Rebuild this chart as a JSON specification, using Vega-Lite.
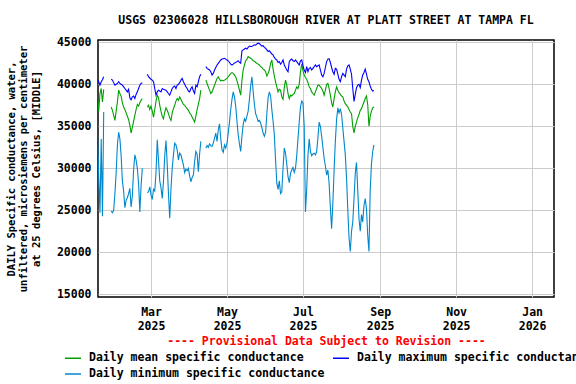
{
 "$schema": "https://vega.github.io/schema/vega-lite/v6.json",
 "width": 456, "height": 257,
 "autosize": {"type": "none"},
 "padding": {"left": 98, "top": 40, "right": 22, "bottom": 87},
 "background": "white",
 "title": {"text": "USGS 02306028 HILLSBOROUGH RIVER AT PLATT STREET AT TAMPA FL", "font": "DejaVu Sans Mono", "fontSize": 11.5, "fontWeight": "bold", "anchor": "middle", "frame": "group", "offset": 10, "color": "black"},
 "config": {"view": {"stroke": "black", "strokeWidth": 1.5}, "font": "DejaVu Sans Mono"},
 "data": {"values": [
{"t":"2025-01-17","s":1,"mean":38700,"max":40550,"min":34100},
{"t":"2025-01-18","s":1,"mean":36800,"max":40300,"min":29000},
{"t":"2025-01-19","s":1,"mean":38900,"max":39900,"min":24700},
{"t":"2025-01-20","s":1,"mean":39500,"max":40300,"min":33500},
{"t":"2025-01-21","s":1,"mean":37900,"max":40550,"min":24300},
{"t":"2025-01-22","s":1,"mean":39400,"max":40900,"min":36700},
{"t":"2025-01-28","s":2,"mean":37300,"max":40600,"min":24900},
{"t":"2025-01-29","s":2,"mean":36900,"max":40500,"min":24700},
{"t":"2025-01-30","s":2,"mean":36300,"max":40200,"min":25000},
{"t":"2025-01-31","s":2,"mean":35700,"max":39900,"min":27000},
{"t":"2025-02-01","s":2,"mean":36800,"max":40000,"min":29500},
{"t":"2025-02-02","s":2,"mean":37900,"max":40100,"min":32800},
{"t":"2025-02-03","s":2,"mean":39300,"max":40300,"min":34300},
{"t":"2025-02-04","s":2,"mean":38900,"max":40100,"min":33500},
{"t":"2025-02-05","s":2,"mean":38600,"max":40000,"min":31500},
{"t":"2025-02-06","s":2,"mean":37800,"max":39900,"min":28500},
{"t":"2025-02-07","s":2,"mean":37300,"max":39700,"min":27300},
{"t":"2025-02-08","s":2,"mean":37000,"max":39500,"min":25300},
{"t":"2025-02-09","s":2,"mean":36600,"max":39300,"min":26200},
{"t":"2025-02-10","s":2,"mean":36200,"max":39100,"min":26500},
{"t":"2025-02-11","s":2,"mean":35800,"max":39400,"min":27000},
{"t":"2025-02-12","s":2,"mean":35100,"max":38400,"min":27600},
{"t":"2025-02-13","s":2,"mean":34200,"max":38150,"min":25400},
{"t":"2025-02-14","s":2,"mean":34900,"max":38500,"min":26700},
{"t":"2025-02-15","s":2,"mean":35600,"max":38600,"min":29800},
{"t":"2025-02-16","s":2,"mean":36300,"max":38300,"min":31600},
{"t":"2025-02-17","s":2,"mean":37000,"max":38800,"min":31000},
{"t":"2025-02-18","s":2,"mean":37600,"max":39100,"min":30000},
{"t":"2025-02-19","s":2,"mean":37400,"max":39500,"min":28200},
{"t":"2025-02-20","s":2,"mean":37800,"max":39900,"min":24800},
{"t":"2025-02-21","s":2,"mean":38100,"max":40100,"min":27900},
{"t":"2025-02-22","s":2,"mean":38300,"max":40200,"min":30000},
{"t":"2025-02-26","s":3,"mean":37300,"max":41200,"min":27100},
{"t":"2025-02-27","s":3,"mean":37500,"max":40900,"min":27200},
{"t":"2025-02-28","s":3,"mean":37000,"max":40750,"min":27800},
{"t":"2025-03-01","s":3,"mean":37400,"max":40600,"min":26800},
{"t":"2025-03-02","s":3,"mean":36800,"max":40500,"min":26300},
{"t":"2025-03-03","s":3,"mean":36100,"max":40300,"min":27500},
{"t":"2025-03-04","s":3,"mean":37000,"max":39500,"min":27300},
{"t":"2025-03-05","s":3,"mean":38000,"max":38700,"min":29500},
{"t":"2025-03-06","s":3,"mean":38700,"max":39100,"min":33400},
{"t":"2025-03-07","s":3,"mean":38400,"max":39300,"min":31000},
{"t":"2025-03-08","s":3,"mean":37500,"max":39200,"min":28500},
{"t":"2025-03-09","s":3,"mean":36800,"max":39100,"min":27700},
{"t":"2025-03-10","s":3,"mean":36200,"max":39500,"min":26400},
{"t":"2025-03-11","s":3,"mean":35900,"max":39400,"min":28500},
{"t":"2025-03-12","s":3,"mean":36700,"max":39350,"min":31500},
{"t":"2025-03-13","s":3,"mean":37200,"max":39300,"min":33300},
{"t":"2025-03-14","s":3,"mean":36900,"max":39100,"min":30500},
{"t":"2025-03-15","s":3,"mean":36500,"max":38900,"min":27000},
{"t":"2025-03-16","s":3,"mean":36000,"max":38700,"min":24050},
{"t":"2025-03-17","s":3,"mean":35700,"max":39100,"min":27500},
{"t":"2025-03-18","s":3,"mean":36600,"max":39500,"min":30000},
{"t":"2025-03-19","s":3,"mean":37100,"max":39700,"min":31600},
{"t":"2025-03-20","s":3,"mean":37500,"max":39800,"min":33000},
{"t":"2025-03-21","s":3,"mean":38000,"max":39500,"min":32800},
{"t":"2025-03-22","s":3,"mean":38300,"max":39900,"min":32200},
{"t":"2025-03-23","s":3,"mean":38100,"max":40000,"min":31000},
{"t":"2025-03-24","s":3,"mean":38500,"max":40200,"min":31800},
{"t":"2025-03-25","s":3,"mean":38200,"max":40500,"min":31600},
{"t":"2025-03-26","s":3,"mean":37900,"max":40700,"min":31000},
{"t":"2025-03-27","s":3,"mean":37600,"max":40300,"min":30400},
{"t":"2025-03-28","s":3,"mean":37500,"max":40000,"min":29500},
{"t":"2025-03-29","s":3,"mean":37300,"max":39700,"min":29900},
{"t":"2025-03-30","s":3,"mean":37100,"max":39500,"min":29700},
{"t":"2025-03-31","s":3,"mean":36900,"max":39200,"min":30000},
{"t":"2025-04-01","s":3,"mean":36600,"max":39100,"min":29100},
{"t":"2025-04-02","s":3,"mean":36400,"max":39500,"min":28400},
{"t":"2025-04-03","s":3,"mean":36100,"max":39700,"min":28900},
{"t":"2025-04-04","s":3,"mean":35800,"max":39200,"min":29200},
{"t":"2025-04-05","s":3,"mean":35500,"max":38900,"min":30800},
{"t":"2025-04-06","s":3,"mean":36200,"max":39900,"min":32000},
{"t":"2025-04-07","s":3,"mean":37000,"max":39700,"min":31700},
{"t":"2025-04-08","s":3,"mean":37600,"max":40300,"min":29600},
{"t":"2025-04-09","s":3,"mean":38300,"max":40900,"min":31700},
{"t":"2025-04-10","s":3,"mean":39300,"max":41200,"min":33200},
{"t":"2025-04-14","s":4,"mean":40500,"max":42100,"min":32400},
{"t":"2025-04-15","s":4,"mean":40100,"max":41900,"min":32700},
{"t":"2025-04-16","s":4,"mean":39700,"max":41800,"min":32500},
{"t":"2025-04-17","s":4,"mean":39300,"max":41700,"min":32900},
{"t":"2025-04-18","s":4,"mean":38900,"max":41500,"min":32700},
{"t":"2025-04-19","s":4,"mean":39100,"max":41100,"min":32600},
{"t":"2025-04-20","s":4,"mean":39500,"max":41300,"min":33000},
{"t":"2025-04-21","s":4,"mean":39900,"max":41700,"min":33600},
{"t":"2025-04-22","s":4,"mean":40300,"max":42000,"min":34200},
{"t":"2025-04-23","s":4,"mean":40700,"max":42300,"min":33200},
{"t":"2025-04-24","s":4,"mean":40900,"max":42500,"min":34600},
{"t":"2025-04-25","s":4,"mean":40600,"max":42700,"min":35300},
{"t":"2025-04-26","s":4,"mean":40400,"max":42900,"min":33500},
{"t":"2025-04-27","s":4,"mean":40500,"max":43000,"min":32200},
{"t":"2025-04-28","s":4,"mean":40400,"max":43050,"min":31900},
{"t":"2025-04-29","s":4,"mean":40500,"max":43100,"min":32800},
{"t":"2025-04-30","s":4,"mean":40600,"max":43000,"min":32400},
{"t":"2025-05-01","s":4,"mean":40700,"max":42900,"min":33000},
{"t":"2025-05-02","s":4,"mean":40900,"max":42800,"min":34200},
{"t":"2025-05-03","s":4,"mean":41100,"max":42600,"min":35500},
{"t":"2025-05-04","s":4,"mean":41300,"max":42400,"min":37000},
{"t":"2025-05-05","s":4,"mean":41400,"max":42300,"min":38200},
{"t":"2025-05-06","s":4,"mean":41300,"max":42400,"min":39100},
{"t":"2025-05-07","s":4,"mean":41100,"max":42550,"min":38500},
{"t":"2025-05-08","s":4,"mean":40900,"max":42600,"min":37400},
{"t":"2025-05-09","s":4,"mean":40400,"max":42700,"min":35600},
{"t":"2025-05-10","s":4,"mean":39900,"max":42800,"min":34000},
{"t":"2025-05-11","s":4,"mean":39300,"max":42600,"min":32900},
{"t":"2025-05-12","s":4,"mean":38700,"max":42500,"min":32000},
{"t":"2025-05-13","s":4,"mean":40500,"max":44000,"min":33800},
{"t":"2025-05-14","s":4,"mean":41700,"max":44100,"min":35200},
{"t":"2025-05-15","s":4,"mean":42300,"max":44200,"min":35900},
{"t":"2025-05-16","s":4,"mean":42800,"max":44300,"min":35600},
{"t":"2025-05-17","s":4,"mean":43000,"max":44200,"min":36200},
{"t":"2025-05-18","s":4,"mean":43300,"max":44400,"min":36800},
{"t":"2025-05-19","s":4,"mean":43200,"max":44550,"min":38200},
{"t":"2025-05-20","s":4,"mean":43100,"max":44500,"min":39800},
{"t":"2025-05-21","s":4,"mean":43000,"max":44500,"min":40900},
{"t":"2025-05-22","s":4,"mean":42800,"max":44600,"min":39200},
{"t":"2025-05-23","s":4,"mean":42750,"max":44700,"min":37600},
{"t":"2025-05-24","s":4,"mean":42600,"max":44650,"min":36500},
{"t":"2025-05-25","s":4,"mean":42500,"max":44800,"min":36100},
{"t":"2025-05-26","s":4,"mean":42400,"max":44900,"min":35600},
{"t":"2025-05-27","s":4,"mean":42300,"max":44850,"min":35700},
{"t":"2025-05-28","s":4,"mean":42100,"max":44700,"min":35400},
{"t":"2025-05-29","s":4,"mean":42000,"max":44550,"min":34800},
{"t":"2025-05-30","s":4,"mean":41800,"max":44600,"min":34200},
{"t":"2025-05-31","s":4,"mean":41700,"max":44400,"min":33800},
{"t":"2025-06-01","s":4,"mean":41500,"max":44300,"min":34300},
{"t":"2025-06-02","s":4,"mean":41000,"max":44100,"min":36500},
{"t":"2025-06-03","s":4,"mean":41300,"max":43900,"min":38400},
{"t":"2025-06-04","s":4,"mean":41700,"max":44000,"min":39100},
{"t":"2025-06-05","s":4,"mean":42500,"max":43800,"min":38600},
{"t":"2025-06-06","s":4,"mean":42900,"max":43600,"min":37000},
{"t":"2025-06-07","s":4,"mean":41800,"max":43500,"min":35600},
{"t":"2025-06-08","s":4,"mean":41000,"max":43200,"min":34000},
{"t":"2025-06-09","s":4,"mean":40300,"max":43000,"min":31000},
{"t":"2025-06-10","s":4,"mean":39700,"max":42900,"min":28200},
{"t":"2025-06-11","s":4,"mean":39100,"max":42600,"min":27500},
{"t":"2025-06-12","s":4,"mean":39400,"max":42700,"min":28500},
{"t":"2025-06-13","s":4,"mean":39300,"max":42400,"min":27000},
{"t":"2025-06-14","s":4,"mean":38500,"max":42600,"min":27200},
{"t":"2025-06-15","s":4,"mean":38200,"max":42900,"min":30000},
{"t":"2025-06-16","s":4,"mean":39600,"max":42300,"min":32400},
{"t":"2025-06-17","s":4,"mean":40500,"max":42000,"min":31800},
{"t":"2025-06-18","s":4,"mean":39900,"max":41700,"min":30500},
{"t":"2025-06-19","s":4,"mean":38900,"max":41500,"min":29000},
{"t":"2025-06-20","s":4,"mean":38300,"max":42700,"min":28300},
{"t":"2025-06-21","s":4,"mean":38700,"max":42900,"min":29400},
{"t":"2025-06-22","s":4,"mean":38600,"max":43000,"min":29800},
{"t":"2025-06-23","s":4,"mean":38800,"max":42800,"min":30100},
{"t":"2025-06-24","s":4,"mean":38900,"max":42700,"min":29500},
{"t":"2025-06-25","s":4,"mean":39300,"max":42900,"min":30000},
{"t":"2025-06-26","s":4,"mean":39700,"max":42700,"min":31500},
{"t":"2025-06-27","s":4,"mean":39500,"max":42500,"min":33500},
{"t":"2025-06-28","s":4,"mean":40000,"max":42300,"min":35500},
{"t":"2025-06-29","s":4,"mean":41500,"max":42800,"min":37300},
{"t":"2025-06-30","s":4,"mean":42400,"max":42900,"min":38000},
{"t":"2025-07-01","s":4,"mean":41600,"max":42200,"min":37800},
{"t":"2025-07-02","s":4,"mean":41100,"max":41700,"min":35000},
{"t":"2025-07-03","s":4,"mean":40800,"max":41400,"min":24800},
{"t":"2025-07-04","s":4,"mean":40600,"max":42100,"min":27500},
{"t":"2025-07-05","s":4,"mean":40200,"max":41500,"min":31500},
{"t":"2025-07-06","s":4,"mean":39700,"max":41900,"min":33500},
{"t":"2025-07-07","s":4,"mean":39500,"max":42000,"min":32000},
{"t":"2025-07-08","s":4,"mean":39100,"max":41700,"min":31500},
{"t":"2025-07-09","s":4,"mean":38900,"max":41900,"min":31700},
{"t":"2025-07-10","s":4,"mean":38700,"max":42100,"min":31800},
{"t":"2025-07-11","s":4,"mean":39100,"max":42300,"min":31600},
{"t":"2025-07-12","s":4,"mean":39500,"max":42100,"min":32000},
{"t":"2025-07-13","s":4,"mean":39900,"max":42200,"min":33600},
{"t":"2025-07-14","s":4,"mean":39900,"max":42300,"min":35500},
{"t":"2025-07-15","s":4,"mean":39700,"max":41700,"min":35000},
{"t":"2025-07-16","s":4,"mean":39500,"max":41100,"min":33800},
{"t":"2025-07-17","s":4,"mean":39200,"max":40900,"min":32500},
{"t":"2025-07-18","s":4,"mean":38700,"max":41300,"min":31200},
{"t":"2025-07-19","s":4,"mean":39300,"max":42000,"min":30300},
{"t":"2025-07-20","s":4,"mean":40000,"max":42700,"min":29200},
{"t":"2025-07-21","s":4,"mean":40100,"max":43000,"min":29800},
{"t":"2025-07-22","s":4,"mean":39500,"max":43050,"min":28200},
{"t":"2025-07-23","s":4,"mean":38700,"max":42600,"min":25400},
{"t":"2025-07-24","s":4,"mean":37800,"max":42000,"min":22800},
{"t":"2025-07-25","s":4,"mean":37300,"max":41500,"min":25800},
{"t":"2025-07-26","s":4,"mean":38300,"max":41200,"min":29800},
{"t":"2025-07-27","s":4,"mean":39100,"max":41900,"min":33200},
{"t":"2025-07-28","s":4,"mean":39700,"max":41800,"min":35800},
{"t":"2025-07-29","s":4,"mean":39300,"max":41200,"min":37200},
{"t":"2025-07-30","s":4,"mean":39000,"max":40600,"min":36600},
{"t":"2025-07-31","s":4,"mean":38800,"max":40300,"min":37100},
{"t":"2025-08-01","s":4,"mean":38600,"max":40900,"min":36400},
{"t":"2025-08-02","s":4,"mean":38500,"max":41300,"min":34800},
{"t":"2025-08-03","s":4,"mean":38000,"max":41100,"min":33200},
{"t":"2025-08-04","s":4,"mean":37700,"max":40900,"min":31600},
{"t":"2025-08-05","s":4,"mean":37500,"max":41800,"min":28800},
{"t":"2025-08-06","s":4,"mean":37300,"max":42200,"min":25100},
{"t":"2025-08-07","s":4,"mean":37000,"max":42300,"min":21700},
{"t":"2025-08-08","s":4,"mean":36700,"max":41800,"min":20100},
{"t":"2025-08-09","s":4,"mean":36500,"max":41200,"min":22500},
{"t":"2025-08-10","s":4,"mean":35000,"max":39500,"min":23600},
{"t":"2025-08-11","s":4,"mean":34200,"max":37950,"min":26400},
{"t":"2025-08-12","s":4,"mean":35000,"max":38800,"min":29400},
{"t":"2025-08-13","s":4,"mean":35500,"max":39600,"min":30700},
{"t":"2025-08-14","s":4,"mean":36000,"max":39900,"min":27400},
{"t":"2025-08-15","s":4,"mean":36400,"max":40000,"min":24000},
{"t":"2025-08-16","s":4,"mean":36900,"max":39600,"min":22500},
{"t":"2025-08-17","s":4,"mean":37100,"max":40500,"min":24500},
{"t":"2025-08-18","s":4,"mean":37500,"max":41100,"min":23600},
{"t":"2025-08-19","s":4,"mean":37900,"max":41400,"min":25600},
{"t":"2025-08-20","s":4,"mean":38300,"max":41800,"min":26400},
{"t":"2025-08-21","s":4,"mean":38600,"max":41200,"min":25200},
{"t":"2025-08-22","s":4,"mean":37600,"max":40600,"min":22000},
{"t":"2025-08-23","s":4,"mean":35000,"max":40300,"min":20100},
{"t":"2025-08-24","s":4,"mean":36200,"max":39800,"min":27400},
{"t":"2025-08-25","s":4,"mean":36800,"max":39400,"min":30500},
{"t":"2025-08-26","s":4,"mean":37200,"max":39200,"min":32000},
{"t":"2025-08-27","s":4,"mean":37300,"max":39250,"min":32800}
 ]},
 "transform": [{"fold": ["mean", "max", "min"], "as": ["key", "value"]}],
 "mark": {"type": "line", "strokeWidth": 1.1, "clip": true},
 "encoding": {
  "x": {"field": "t", "type": "temporal",
   "scale": {"type": "utc", "domain": [{"year": 2025, "month": 1, "date": 17, "hours": 10, "utc": true}, {"year": 2026, "month": 1, "date": 18, "hours": 14, "utc": true}]},
   "axis": {"values": [{"year": 2025, "month": 3, "date": 1, "utc": true}, {"year": 2025, "month": 5, "date": 1, "utc": true}, {"year": 2025, "month": 7, "date": 1, "utc": true}, {"year": 2025, "month": 9, "date": 1, "utc": true}, {"year": 2025, "month": 11, "date": 1, "utc": true}, {"year": 2026, "month": 1, "date": 1, "utc": true}],
    "labelExpr": "[utcFormat(datum.value, '%b'), utcFormat(datum.value, '%Y')]",
    "labelFont": "DejaVu Sans Mono", "labelFontSize": 11.5, "labelFontWeight": "bold", "labelColor": "black", "labelLineHeight": 14, "labelPadding": 9, "labelAlign": "center", "labelBaseline": "top", "labelOverlap": false, "labelFlush": false,
    "ticks": false, "domain": false, "grid": true, "gridColor": "#cccccc", "gridOpacity": 1, "gridWidth": 1,
    "title": "---- Provisional Data Subject to Revision ----", "titleColor": "#ff0000", "titleFont": "DejaVu Sans Mono", "titleFontSize": 11.5, "titleFontWeight": "bold", "titlePadding": 4}},
  "y": {"field": "value", "type": "quantitative",
   "scale": {"domain": [14679, 45274], "nice": false, "zero": false},
   "axis": {"values": [15000, 20000, 25000, 30000, 35000, 40000, 45000], "format": "d",
    "labelFont": "DejaVu Sans Mono", "labelFontSize": 11.5, "labelFontWeight": "bold", "labelColor": "black", "labelPadding": 7,
    "ticks": false, "domain": false, "grid": true, "gridColor": "#cccccc", "gridOpacity": 1, "gridWidth": 1,
    "title": ["DAILY Specific conductance, water,", "unfiltered, microsiemens per centimeter", "at 25 degrees Celsius, [MIDDLE]"],
    "titleFont": "DejaVu Sans Mono", "titleFontSize": 10.5, "titleFontWeight": "bold", "titleColor": "black", "titleLineHeight": 12.5, "titleAngle": -90, "titleAlign": "center", "titleBaseline": "top", "titleX": -92, "titleY": 128.5}},
  "color": {"field": "key", "type": "nominal",
   "scale": {"domain": ["mean", "max", "min"], "range": ["#00a000", "#0000ff", "#0088cc"]},
   "legend": {"orient": "none", "legendX": -34, "legendY": 309, "columns": 2, "direction": "horizontal", "title": null, "symbolType": "stroke", "symbolSize": 256, "symbolStrokeWidth": 1.5, "labelFont": "DejaVu Sans Mono", "labelFontSize": 11.5, "labelFontWeight": "bold", "labelColor": "black", "labelOffset": 7, "labelLimit": 400, "columnPadding": 5, "rowPadding": 1, "gridAlign": "each",
    "labelExpr": "datum.label == 'mean' ? 'Daily mean specific conductance' : datum.label == 'max' ? 'Daily maximum specific conductance' : 'Daily minimum specific conductance'"}},
  "detail": {"field": "s", "type": "nominal"}
 }
}
